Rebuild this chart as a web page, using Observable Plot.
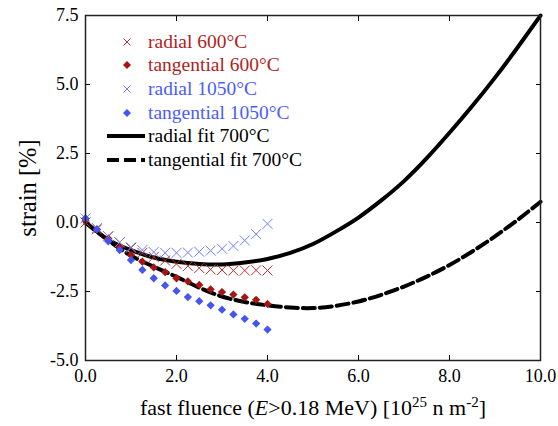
<!DOCTYPE html>
<html><head><meta charset="utf-8">
<script src="https://cdn.jsdelivr.net/npm/d3@7"></script>
<script src="https://cdn.jsdelivr.net/npm/@observablehq/plot@0.6"></script>
<style>
body{margin:0;background:#fff}
#wrap{position:relative;width:558px;height:426px;font-family:"Liberation Serif","Times New Roman",serif}
#wrap svg text{font-family:"Liberation Serif","Times New Roman",serif !important}
#legend{position:absolute;left:105px;top:30px;font-size:19.5px}
.row{height:23.6px;display:flex;align-items:center;white-space:nowrap}
.row svg{flex:none;margin-right:1px}
</style>
</head><body><div id="wrap"><div id="legend"></div></div>
<script>
// ---- data ----
const fluence = [0,0.25,0.5,0.75,1,1.25,1.5,1.75,2,2.25,2.5,2.75,3,3.25,3.5,3.75,4];
const radial600 = [0.0,-0.25,-0.5,-0.72,-0.92,-1.1,-1.25,-1.38,-1.5,-1.58,-1.65,-1.7,-1.72,-1.74,-1.74,-1.73,-1.74];
const tangential600 = [0.05,-0.25,-0.58,-0.9,-1.18,-1.42,-1.63,-1.8,-2.02,-2.13,-2.26,-2.42,-2.52,-2.61,-2.71,-2.8,-2.95];
const radial1050 = [0.15,-0.2,-0.5,-0.72,-0.9,-1.0,-1.07,-1.1,-1.1,-1.09,-1.06,-1.02,-0.95,-0.85,-0.65,-0.42,-0.05];
const tangential1050 = [0.15,-0.25,-0.68,-1.0,-1.36,-1.72,-2.02,-2.28,-2.48,-2.7,-2.85,-3.0,-3.16,-3.33,-3.49,-3.66,-3.88];
const fitFluence = [0,0.5,1,1.5,2,2.5,3,3.5,4,4.5,5,5.5,6,6.5,7,7.5,8,8.5,9,9.5,10];
const radialFit700 = [0,-0.62,-1.0,-1.27,-1.42,-1.5,-1.52,-1.45,-1.32,-1.1,-0.78,-0.33,0.18,0.8,1.5,2.33,3.25,4.22,5.25,6.35,7.5];
const tangentialFit700 = [0,-0.65,-1.2,-1.6,-1.97,-2.36,-2.68,-2.88,-3.0,-3.08,-3.1,-3.02,-2.86,-2.62,-2.32,-1.96,-1.54,-1.05,-0.5,0.1,0.75];
const xTicks = [0,2,4,6,8,10];
const yTicks = [-5,-2.5,0,2.5,5,7.5];

const series = [
  {name:"radial 600°C", values:radial600, symbol:"times", color:"#c0302f", text:"#b01e1e"},
  {name:"tangential 600°C", values:tangential600, symbol:"diamond", color:"#a51515", text:"#b01e1e"},
  {name:"radial 1050°C", values:radial1050, symbol:"times", color:"#6f7dff", text:"#4b5cff"},
  {name:"tangential 1050°C", values:tangential1050, symbol:"diamond", color:"#4455f0", text:"#4b5cff"}
];
const fits = [
  {name:"radial fit 700°C", values:radialFit700, dash:null},
  {name:"tangential fit 700°C", values:tangentialFit700, dash:"12,5"}
];

const pts = s => fluence.map((x,i)=>({x, y:s.values[i]}));
const fitPts = f => fitFluence.map((x,i)=>({x, y:f.values[i]}));
const fmt = d => d.toFixed(1);
const blank = () => "";

const marks = [
  Plot.axisX({ticks:xTicks, tickSize:0, tickPadding:9, tickFormat:fmt, label:"x", labelAnchor:"center", labelOffset:54}),
  Plot.axisX({anchor:"bottom", ticks:xTicks, tickSize:5, dy:-5, tickFormat:blank, label:null}),
  Plot.axisX({anchor:"top", ticks:xTicks, tickSize:5, dy:5, tickFormat:blank, label:null}),
  Plot.axisY({ticks:yTicks, tickSize:0, tickPadding:7, tickFormat:fmt, label:"y", labelAnchor:"center", labelOffset:67}),
  Plot.axisY({anchor:"left", ticks:yTicks, tickSize:5, dx:5, tickFormat:blank, label:null}),
  Plot.axisY({anchor:"right", ticks:yTicks, tickSize:5, dx:-5, tickFormat:blank, label:null}),
];
fits.forEach(f => marks.push(Plot.line(fitPts(f), {x:"x", y:"y", curve:"natural", stroke:"black", strokeWidth:4, strokeDasharray:f.dash})));
series.forEach(s => {
  if (s.symbol === "times")
    marks.push(Plot.dot(pts(s), {x:"x", y:"y", symbol:"times", r:4.6, stroke:s.color, strokeWidth:1}));
  else
    marks.push(Plot.dot(pts(s), {x:"x", y:"y", symbol:"square", rotate:45, r:3.3, fill:s.color, stroke:null}));
});
marks.push(Plot.frame({stroke:"#222", strokeWidth:1.5}));

const chart = Plot.plot({
  width:558, height:426,
  marginLeft:85, marginRight:18, marginTop:15, marginBottom:66,
  x:{domain:[0,10]}, y:{domain:[-5,7.5]},
  style:{fontFamily:'"Liberation Serif", serif', fontSize:"18px", color:"#000", background:"#fff"},
  marks
});
document.getElementById("wrap").prepend(chart);

// axis labels with rich text
const xl = d3.select(chart).select('g[aria-label="x-axis label"] text');
xl.text(null).style("font-size","22px");
xl.append("tspan").text("fast fluence (");
xl.append("tspan").style("font-style","italic").text("E");
xl.append("tspan").text(">0.18 MeV) [10");
xl.append("tspan").attr("dy","-8").style("font-size","15px").text("25");
xl.append("tspan").attr("dy","8").text(" n m");
xl.append("tspan").attr("dy","-8").style("font-size","15px").text("-2");
xl.append("tspan").attr("dy","8").text("]");
const yl = d3.select(chart).select('g[aria-label="y-axis label"] text');
yl.text("strain [%]").style("font-size","24.5px");

// legend
const lg = d3.select("#legend");
series.forEach(s => {
  const row = lg.append("div").attr("class","row");
  const sv = row.append("svg").attr("width",42).attr("height",20);
  if (s.symbol === "times") {
    sv.append("path").attr("d","M18.5,6.5L25.5,13.5M25.5,6.5L18.5,13.5").attr("stroke",s.color).attr("stroke-width",1);
  } else {
    sv.append("path").attr("d","M22,6L26,10L22,14L18,10Z").attr("fill",s.color);
  }
  row.append("span").style("color",s.text).text(s.name);
});
fits.forEach(f => {
  const row = lg.append("div").attr("class","row");
  const sv = row.append("svg").attr("width",42).attr("height",20);
  sv.append("line").attr("x1",2).attr("x2",40).attr("y1",10).attr("y2",10).attr("stroke","black").attr("stroke-width",4).attr("stroke-dasharray",f.dash);
  row.append("span").style("color","#000").text(f.name);
});
</script>
</body></html>
